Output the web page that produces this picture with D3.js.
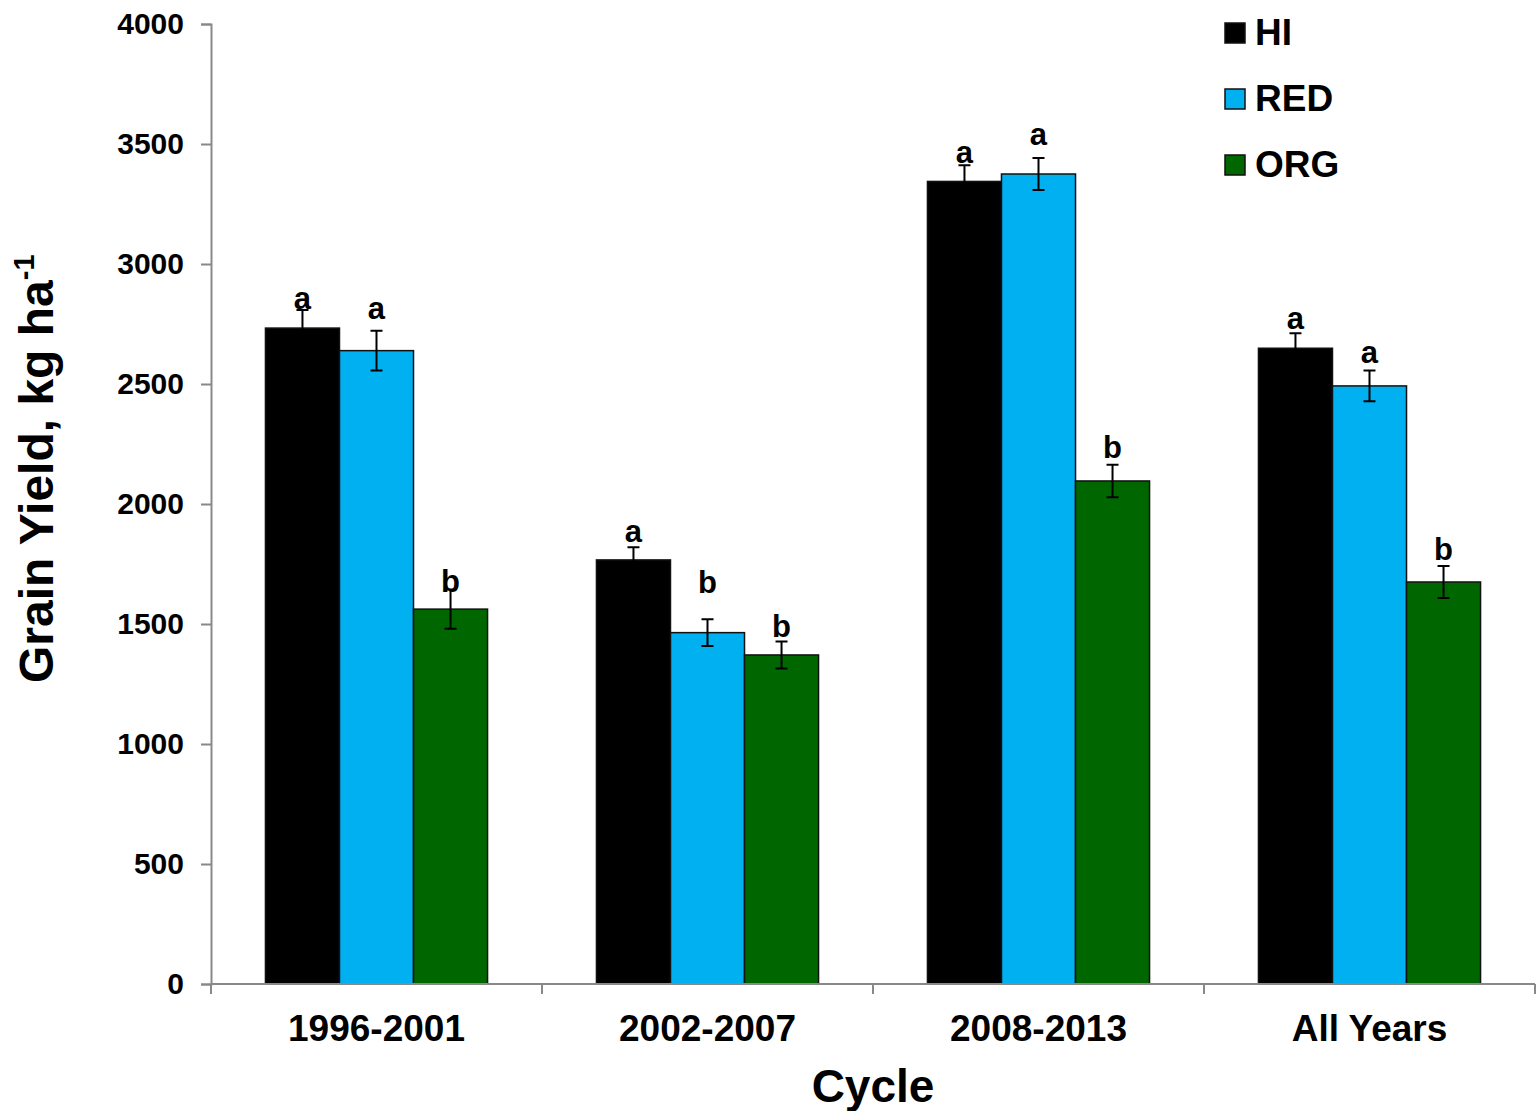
<!DOCTYPE html>
<html>
<head>
<meta charset="utf-8">
<script src="https://cdn.jsdelivr.net/npm/d3@7"></script>
<style>
  html, body { margin: 0; padding: 0; background: #fff; }
  svg { display: block; font-family: "Liberation Sans", Arial, sans-serif; font-weight: bold; }
</style>
</head>
<body>
<svg id="chart" width="1537" height="1111"></svg>
<script>
// ---- data ----
const categories = ["1996-2001", "2002-2007", "2008-2013", "All Years"];
const series = ["HI", "RED", "ORG"];
const colors = ["#000000", "#00B0F0", "#006600"];
const HI  = [2733, 1767, 3344, 2649];
const RED = [2639, 1464, 3375, 2492];
const ORG = [1562, 1371, 2096, 1675];
const HI_err  = [75, 53, 67, 62];
const RED_err = [83, 56, 67, 64];
const ORG_err = [82, 56, 68, 67];
const HI_letters  = ["a", "a", "a", "a"];
const RED_letters = ["a", "b", "a", "a"];
const ORG_letters = ["b", "b", "b", "b"];
// letter anchor values (kg ha-1) as placed in the original
const HI_letterAt  = [2812, 1842, 3421, 2729];
const RED_letterAt = [2771, 1629, 3496, 2588];
const ORG_letterAt = [1633, 1446, 2192, 1767];
const yTicks = [0, 500, 1000, 1500, 2000, 2500, 3000, 3500, 4000];

const values = [HI, RED, ORG];
const errs = [HI_err, RED_err, ORG_err];
const letters = [HI_letters, RED_letters, ORG_letters];
const letterAt = [HI_letterAt, RED_letterAt, ORG_letterAt];

// ---- layout ----
const mLeft = 211, mRight = 1535, mTop = 24, mBottom = 984;
const svg = d3.select("#chart");
const pad = 0.329;
const x0 = d3.scaleBand().domain(categories).range([mLeft, mRight]).paddingInner(pad).paddingOuter(pad / 2);
const x1 = d3.scaleBand().domain(series).range([0, x0.bandwidth()]).padding(0);
const y = d3.scaleLinear().domain([0, 4000]).range([mBottom, mTop]);
const axisColor = "#898989";

// y axis
const yAxis = svg.append("g").attr("transform", `translate(${mLeft},0)`)
  .call(d3.axisLeft(y).tickValues(yTicks).tickSize(10).tickPadding(17).tickFormat(d3.format("d")));
yAxis.select(".domain").attr("stroke", axisColor).attr("stroke-width", 2);
yAxis.selectAll(".tick line").attr("stroke", axisColor).attr("stroke-width", 2);
yAxis.selectAll(".tick text").attr("fill", "#000").style("font-size", "30px")
  .style("font-family", "'Liberation Sans', Arial, sans-serif").style("font-weight", "bold");

// bars
const groups = svg.append("g").selectAll("g").data(categories).join("g")
  .attr("transform", d => `translate(${x0(d)},0)`);

series.forEach((s, si) => {
  groups.append("rect")
    .attr("x", x1(s))
    .attr("y", (d, i) => y(values[si][i]))
    .attr("width", x1.bandwidth())
    .attr("height", (d, i) => y(0) - y(values[si][i]))
    .attr("fill", colors[si])
    .attr("stroke", "#111")
    .attr("stroke-width", 1.5);
});

// error bars
const cap = 6;
series.forEach((s, si) => {
  const cx = x1(s) + x1.bandwidth() / 2;
  groups.append("path")
    .attr("d", (d, i) => {
      const v = values[si][i], e = errs[si][i];
      const yt = y(v + e), yb = y(v - e);
      return `M${cx},${yt}V${yb}M${cx - cap},${yt}H${cx + cap}M${cx - cap},${yb}H${cx + cap}`;
    })
    .attr("stroke", "#000")
    .attr("stroke-width", 2)
    .attr("fill", "none");
  groups.append("text")
    .attr("x", cx)
    .attr("y", (d, i) => y(letterAt[si][i]))
    .attr("text-anchor", "middle")
    .style("font-size", "31px")
    .text((d, i) => letters[si][i]);
});

// x axis
svg.append("line").attr("x1", mLeft).attr("x2", mRight).attr("y1", mBottom).attr("y2", mBottom)
  .attr("stroke", axisColor).attr("stroke-width", 2);
const step = x0.step();
const boundaries = categories.map(c => x0(c) - step * pad / 2).concat([mRight]);
svg.append("g").selectAll("line").data(boundaries).join("line")
  .attr("x1", d => d).attr("x2", d => d).attr("y1", mBottom).attr("y2", mBottom + 10)
  .attr("stroke", axisColor).attr("stroke-width", 2);
svg.append("g").selectAll("text").data(categories).join("text")
  .attr("x", d => x0(d) + x0.bandwidth() / 2)
  .attr("y", 1041)
  .attr("text-anchor", "middle")
  .style("font-size", "37px")
  .text(d => d);

// axis titles
svg.append("text").attr("x", 873).attr("y", 1102).attr("text-anchor", "middle")
  .style("font-size", "46px").text("Cycle");
const ytl = svg.append("text").attr("transform", "translate(53,683) rotate(-90)")
  .attr("text-anchor", "start").style("font-size", "48px");
ytl.append("tspan").text("Grain Yield, kg ha");
ytl.append("tspan").attr("dy", -19).style("font-size", "29px").text("-1");

// legend
const legendY = [33, 99, 165];
const lg = svg.append("g").selectAll("g").data(series).join("g")
  .attr("transform", (d, i) => `translate(1225,${legendY[i]})`);
lg.append("rect").attr("x", 0).attr("y", -10).attr("width", 20).attr("height", 20)
  .attr("fill", (d, i) => colors[i]).attr("stroke", "#111").attr("stroke-width", 1.5);
lg.append("text").attr("x", 30).attr("y", 12).style("font-size", "37px").text(d => d);
</script>
</body>
</html>
